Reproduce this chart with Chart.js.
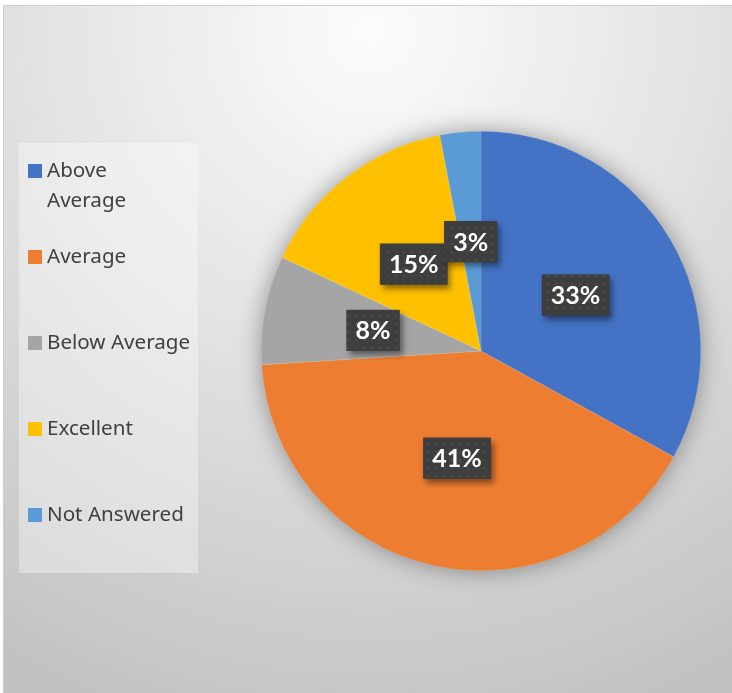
<!DOCTYPE html>
<html>
<head>
<meta charset="utf-8">
<script src="https://cdn.jsdelivr.net/npm/chart.js@4"></script>
<style>
  html, body { margin: 0; padding: 0; background: #fff; }
  #wrap { width: 732px; height: 693px; position: relative; }
</style>
</head>
<body>
<div id="wrap"><canvas id="ratingChart"></canvas></div>
<script>
// Survey ratings (percent of responses)
const categories = ['Above Average', 'Average', 'Below Average', 'Excellent', 'Not Answered'];
const shares = [33, 41, 8, 15, 3];
const sliceColors = ['#4472C4', '#ED7D31', '#A5A5A5', '#FFC000', '#5B9BD5'];

// legend entries that break onto two lines
const legendWrap = { 'Above Average': ['Above', 'Average'] };

// background panel + outer frame
const panelBackground = {
    id: 'panelBackground',
    beforeDraw(chart) {
        const ctx = chart.ctx;
        const w = chart.width, h = chart.height;
        ctx.save();
        const g = ctx.createRadialGradient(370, 30, 10, 370, 30, 720);
        g.addColorStop(0, '#fbfbfb');
        g.addColorStop(0.45, '#e3e3e3');
        g.addColorStop(1, '#c2c2c2');
        ctx.fillStyle = g;
        ctx.fillRect(0, 0, w, h);
        ctx.fillStyle = '#ffffff';
        ctx.fillRect(0, 0, w, 5);
        ctx.fillRect(0, 0, 3, h);
        ctx.strokeStyle = '#cfcfcf';
        ctx.lineWidth = 1;
        ctx.strokeRect(3.5, 5.5, w + 10, h + 10);
        ctx.restore();
    }
};

// soft glow behind the pie
const pieShadow = {
    id: 'pieShadow',
    beforeDatasetsDraw(chart) {
        const arc = chart.getDatasetMeta(0).data[0];
        if (!arc) return;
        const ctx = chart.ctx;
        ctx.save();
        ctx.shadowColor = 'rgba(0,0,0,0.4)';
        ctx.shadowBlur = 24;
        ctx.fillStyle = '#d8d8d8';
        ctx.beginPath();
        ctx.arc(arc.x, arc.y, arc.outerRadius - 1, 0, Math.PI * 2);
        ctx.fill();
        ctx.restore();
    }
};

// dark textured callouts with the percentage
function makeDots(ctx) {
    const c = document.createElement('canvas');
    c.width = 8; c.height = 8;
    const p = c.getContext('2d');
    p.fillStyle = '#3e3e3e';
    p.fillRect(0, 0, 8, 8);
    p.fillStyle = '#4a4a4a';
    p.fillRect(3, 3, 2, 2);
    return ctx.createPattern(c, 'repeat');
}

const sliceLabels = {
    id: 'sliceLabels',
    afterDatasetsDraw(chart) {
        const ctx = chart.ctx;
        const meta = chart.getDatasetMeta(0);
        const dots = makeDots(ctx);
        ctx.save();
        ctx.font = 'bold 25px Lato';
        ctx.textAlign = 'center';
        ctx.textBaseline = 'middle';
        meta.data.forEach((arc, i) => {
            const pos = arc.tooltipPosition();
            const text = shares[i] + '%';
            const tw = ctx.measureText(text).width;
            const bw = tw + 18, bh = 41;
            const bx = pos.x - bw / 2, by = pos.y - bh / 2;
            ctx.save();
            ctx.shadowColor = 'rgba(0,0,0,0.45)';
            ctx.shadowBlur = 6;
            ctx.shadowOffsetX = 3;
            ctx.shadowOffsetY = 4;
            ctx.fillStyle = '#3e3e3e';
            ctx.fillRect(bx, by, bw, bh);
            ctx.restore();
            ctx.fillStyle = dots;
            ctx.fillRect(bx, by, bw, bh);
            ctx.fillStyle = '#ffffff';
            ctx.fillText(text, pos.x, pos.y + 1);
        });
        ctx.restore();
    }
};

// legend drawn in a lighter box on the left
const sideLegend = {
    id: 'sideLegend',
    afterDraw(chart) {
        const ctx = chart.ctx;
        ctx.save();
        ctx.fillStyle = 'rgba(255,255,255,0.35)';
        ctx.fillRect(19, 143, 179, 430);
        ctx.font = '20.6px "Noto Sans"';
        ctx.textBaseline = 'middle';
        ctx.textAlign = 'left';
        chart.data.labels.forEach((name, i) => {
            const cy = 171 + i * 86;
            ctx.fillStyle = sliceColors[i];
            ctx.fillRect(28, cy - 7, 14, 14);
            ctx.fillStyle = '#404040';
            const lines = legendWrap[name] || [name];
            lines.forEach((ln, k) => ctx.fillText(ln, 47, cy + k * 30));
        });
        ctx.restore();
    }
};

new Chart(document.getElementById('ratingChart'), {
    type: 'pie',
    data: {
        labels: categories,
        datasets: [{
            data: shares,
            backgroundColor: sliceColors,
            borderWidth: 0.5,
            borderColor: 'rgba(255,255,255,0.2)'
        }]
    },
    options: {
        responsive: true,
        maintainAspectRatio: false,
        animation: false,
        layout: { padding: { left: 261, right: 31, top: 131, bottom: 122 } },
        plugins: {
            legend: { display: false },
            tooltip: { enabled: false }
        }
    },
    plugins: [panelBackground, pieShadow, sliceLabels, sideLegend]
});
</script>
</body>
</html>
